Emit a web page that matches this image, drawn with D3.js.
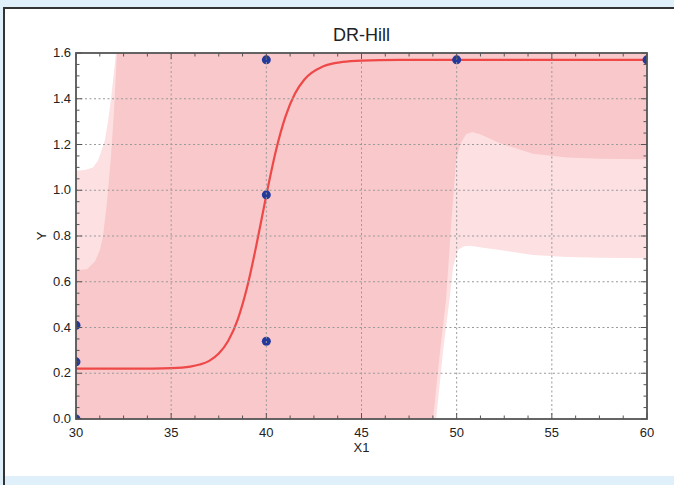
<!DOCTYPE html>
<html><head><meta charset="utf-8">
<script src="https://cdn.jsdelivr.net/npm/d3@7"></script>
<style>body{margin:0;background:#e0f0fa;}svg{display:block;}</style>
</head><body>
<svg id="c" width="674" height="485"></svg>
<script>
// ---- data ----
const title = "DR-Hill";
const xLabel = "X1", yLabel = "Y";
const xTicks = [30, 35, 40, 45, 50, 55, 60];
const yTicks = [0.0, 0.2, 0.4, 0.6, 0.8, 1.0, 1.2, 1.4, 1.6];
const obsX = [30, 30, 30, 40, 40, 40, 50, 60];
const obsY = [0.0, 0.25, 0.41, 1.57, 0.98, 0.34, 1.57, 1.57];
const fitX = [30, 32, 34, 35, 36, 36.5, 37, 37.5, 38, 38.5, 39, 39.5, 40, 40.5, 41, 41.5, 42, 43, 44, 45, 47, 50, 55, 60];
const fitY = [0.220, 0.220, 0.2205, 0.222, 0.229, 0.238, 0.254, 0.286, 0.342, 0.436, 0.579, 0.769, 0.979, 1.172, 1.321, 1.422, 1.484, 1.542, 1.561, 1.567, 1.5697, 1.570, 1.570, 1.570];
// prediction band (light) : upper edge on the left, lower edge on the right
const predUpX = [30, 30.47, 30.89, 31.16, 31.37, 31.52, 31.68, 31.84, 32.0, 32.1, 32.3];
const predUpY = [1.085, 1.088, 1.10, 1.13, 1.18, 1.22, 1.30, 1.40, 1.52, 1.60, 1.95];
const predLoX = [48.6, 48.92, 49.29, 49.65, 49.81, 50.07, 50.39, 50.70, 51.49, 52.28, 54.01, 55.80, 57.54, 60];
const predLoY = [-0.3, 0.0, 0.30, 0.54, 0.665, 0.74, 0.755, 0.757, 0.748, 0.739, 0.717, 0.708, 0.705, 0.703];
// confidence band (dark)
const confUpX = [30, 30.58, 31.0, 31.26, 31.42, 31.63, 31.84, 32.0, 32.15, 32.4];
const confUpY = [0.65, 0.655, 0.69, 0.74, 0.80, 0.95, 1.15, 1.35, 1.60, 1.95];
const confLoX = [48.5, 48.76, 49.13, 49.44, 49.71, 49.97, 50.18, 50.49, 50.81, 51.23, 51.76, 52.28, 53.07, 54.01, 55.80, 57.54, 60];
const confLoY = [-0.3, 0.0, 0.30, 0.52, 0.85, 1.13, 1.20, 1.245, 1.255, 1.245, 1.225, 1.205, 1.185, 1.16, 1.143, 1.138, 1.135];

// ---- layout ----
const svg = d3.select("#c");
const W = 674, H = 485;
const L = 76, R = 647, T = 53, B = 419;
const x = d3.scaleLinear().domain([30, 60]).range([L, R]);
const y = d3.scaleLinear().domain([0, 1.6]).range([B, T]);

svg.append("rect").attr("width", W).attr("height", H).attr("fill", "#e0f0fa");
svg.append("rect").attr("x", 4).attr("y", 8).attr("width", W - 4).attr("height", 468).attr("fill", "#ffffff");
svg.append("line").attr("x1", 4).attr("x2", W).attr("y1", 8).attr("y2", 8).attr("stroke", "#333").attr("stroke-width", 2);
svg.append("line").attr("x1", 4).attr("x2", 4).attr("y1", 7).attr("y2", H).attr("stroke", "#333").attr("stroke-width", 2);

svg.append("clipPath").attr("id", "plot").append("rect")
  .attr("x", L).attr("y", T).attr("width", R - L).attr("height", B - T);
const g = svg.append("g").attr("clip-path", "url(#plot)");

function bandPoly(upX, upY, loX, loY) {
  const pts = [];
  upX.forEach((v, i) => pts.push([v, upY[i]]));
  pts.push([60.5, upY[upY.length - 1]]);
  pts.push([60.5, loY[loY.length - 1]]);
  for (let i = loX.length - 1; i >= 0; i--) pts.push([loX[i], loY[i]]);
  pts.push([29.5, loY[0]]);
  pts.push([29.5, upY[0]]);
  return pts;
}
const poly = d3.line().x(d => x(d[0])).y(d => y(d[1])).curve(d3.curveLinearClosed);
g.append("path").attr("d", poly(bandPoly(predUpX, predUpY, predLoX, predLoY))).attr("fill", "#fde0e2");
g.append("path").attr("d", poly(bandPoly(confUpX, confUpY, confLoX, confLoY))).attr("fill", "#f9c8ca");

// grid
const grid = svg.append("g").attr("stroke", "#999").attr("stroke-width", 1).attr("stroke-dasharray", "2,2.5");
xTicks.slice(1, -1).forEach(t => grid.append("line").attr("x1", x(t)).attr("x2", x(t)).attr("y1", T).attr("y2", B));
yTicks.slice(1, -1).forEach(t => grid.append("line").attr("x1", L).attr("x2", R).attr("y1", y(t)).attr("y2", y(t)));

// fit curve
const line = d3.line().x((d, i) => x(fitX[i])).y(d => y(d)).curve(d3.curveMonotoneX);
g.append("path").attr("d", line(fitY)).attr("fill", "none").attr("stroke", "#ee4848").attr("stroke-width", 2.2);

// points
g.selectAll("circle.obs").data(obsX).enter().append("circle")
  .attr("cx", d => x(d)).attr("cy", (d, i) => y(obsY[i])).attr("r", 4.5).attr("fill", "#24399c");

// axes (ticks inward on all sides)
const ax = svg.append("g").attr("stroke", "#555");
const xMinor = d3.range(30, 60.01, 1.25);
const yMinor = d3.range(0, 1.6001, 0.05);
xMinor.forEach(t => {
  const major = xTicks.some(m => Math.abs(m - t) < 1e-6);
  const len = major ? 6 : 3.5;
  ax.append("line").attr("x1", x(t)).attr("x2", x(t)).attr("y1", B).attr("y2", B - len).attr("stroke-width", 1);
  ax.append("line").attr("x1", x(t)).attr("x2", x(t)).attr("y1", T).attr("y2", T + len).attr("stroke-width", 1);
});
yMinor.forEach(t => {
  const major = yTicks.some(m => Math.abs(m - t) < 1e-6);
  const len = major ? 6 : 3.5;
  ax.append("line").attr("x1", L).attr("x2", L + len).attr("y1", y(t)).attr("y2", y(t)).attr("stroke-width", 1);
  ax.append("line").attr("x1", R).attr("x2", R - len).attr("y1", y(t)).attr("y2", y(t)).attr("stroke-width", 1);
});
svg.append("rect").attr("x", L).attr("y", T).attr("width", R - L).attr("height", B - T)
  .attr("fill", "none").attr("stroke", "#555").attr("stroke-width", 1.8);

const font = "'Liberation Sans Narrow', 'Arial Narrow', 'Liberation Sans', sans-serif";
svg.selectAll("text.xt").data(xTicks).enter().append("text")
  .attr("x", d => x(d)).attr("y", B + 18).attr("text-anchor", "middle")
  .attr("font-family", font).attr("font-size", 13).attr("fill", "#222").text(d => d);
svg.selectAll("text.yt").data(yTicks).enter().append("text")
  .attr("x", L - 5).attr("y", d => y(d) + 4).attr("text-anchor", "end")
  .attr("font-family", font).attr("font-size", 13).attr("fill", "#222").text(d => d.toFixed(1));
svg.append("text").attr("x", (L + R) / 2).attr("y", 452).attr("text-anchor", "middle")
  .attr("font-family", font).attr("font-size", 13).attr("fill", "#222").text(xLabel);
svg.append("text").attr("transform", `translate(46,${y(0.8)}) rotate(-90)`).attr("text-anchor", "middle")
  .attr("font-family", font).attr("font-size", 13).attr("fill", "#222").text(yLabel);
svg.append("text").attr("x", (L + R) / 2).attr("y", 41).attr("text-anchor", "middle")
  .attr("font-family", "'Liberation Sans', Arial, sans-serif").attr("font-size", 18).attr("fill", "#222").text(title);
</script>
</body></html>
